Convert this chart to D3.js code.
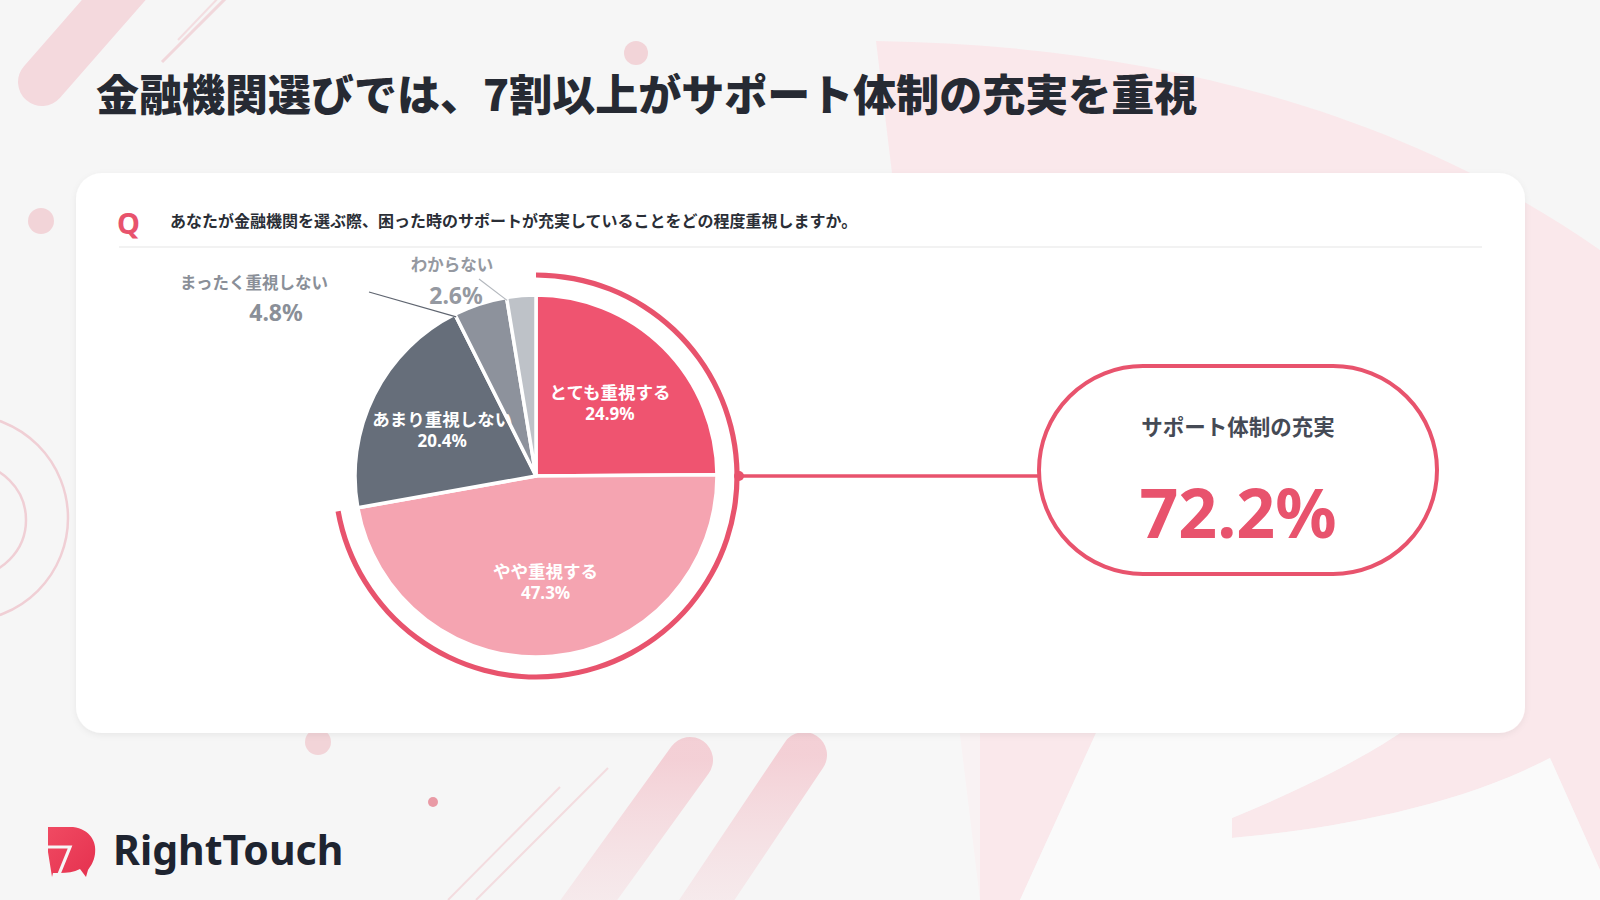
<!DOCTYPE html>
<html lang="ja">
<head>
<meta charset="utf-8">
<script src="https://cdn.jsdelivr.net/npm/d3@7"></script>
<style>
  html, body { margin: 0; padding: 0; background: #f6f6f6; }
  svg { display: block; }
</style>
</head>
<body>
<svg id="chart" width="1600" height="900"></svg>
<script>
// ---------- data ----------
const titleText = "金融機関選びでは、7割以上がサポート体制の充実を重視";
const questionText = "あなたが金融機関を選ぶ際、困った時のサポートが充実していることをどの程度重視しますか。";
const categories = ["とても重視する", "やや重視する", "あまり重視しない", "まったく重視しない", "わからない"];
const values = [24.9, 47.3, 20.4, 4.8, 2.6];
const highlightCount = 2; // first two categories summed in the callout
const highlightLabel = "サポート体制の充実";
const brandName = "RightTouch";

// ---------- styles ----------
const sliceColors = ["#ef5470", "#f5a4b1", "#666e7a", "#8d929c", "#bec2c8"];
const accent = "#e8536d";
const jp = "'Noto Sans CJK JP', 'Noto Sans', sans-serif";
const lat = "'Noto Sans', 'Noto Sans CJK JP', sans-serif";

const svg = d3.select("#chart");
const defs = svg.append("defs");

// ---------- background ----------
const bg = svg.append("g");
bg.append("rect").attr("width", 1600).attr("height", 900).attr("fill", "#f6f6f6");

// large faint brand shape at right
bg.append("path")
  .attr("d", "M876,41 C1150,45 1400,110 1600,250 L1600,870 L1550,758 C1450,810 1320,830 1232,838 L1232,818 C1300,790 1360,760 1400,733 L1380,715 L1100,715 L1096,733 L1020,900 L980,900 Z")
  .attr("fill", "#fae8eb");
bg.append("path")
  .attr("d", "M1020,900 L1096,733 L1400,733 C1360,760 1300,790 1232,818 L1232,838 C1320,830 1450,810 1550,758 L1600,870 L1600,900 Z")
  .attr("fill", "#fafafa");
bg.append("path")
  .attr("d", "M800,733 L980,733 L980,900 L800,900 Z").attr("fill", "#f9f9f9").attr("opacity", 0.6);

const stripeGrad = defs.append("linearGradient").attr("id", "stripeGrad")
  .attr("x1", "0").attr("y1", "0").attr("x2", "0").attr("y2", "1");
stripeGrad.append("stop").attr("offset", "0%").attr("stop-color", "#f3c9d0").attr("stop-opacity", 0.85);
stripeGrad.append("stop").attr("offset", "100%").attr("stop-color", "#f6dde1").attr("stop-opacity", 0.3);

// top-left stripes
bg.append("line").attr("x1", 42).attr("y1", 82).attr("x2", 140).attr("y2", -30)
  .attr("stroke", "#f4d2d8").attr("stroke-width", 48).attr("stroke-linecap", "round").attr("opacity", 0.8);
bg.append("line").attr("x1", 162).attr("y1", 62).attr("x2", 232).attr("y2", -8)
  .attr("stroke", "#f1d7db").attr("stroke-width", 3);
bg.append("line").attr("x1", 178).attr("y1", 40).attr("x2", 222).attr("y2", -6)
  .attr("stroke", "#f3dde0").attr("stroke-width", 2);

// dots
bg.append("circle").attr("cx", 636).attr("cy", 53).attr("r", 12).attr("fill", "#f2d4d8");
bg.append("circle").attr("cx", 41).attr("cy", 221).attr("r", 13).attr("fill", "#f2d4d8");
bg.append("circle").attr("cx", 318).attr("cy", 742).attr("r", 13).attr("fill", "#f2d4d8");
bg.append("circle").attr("cx", 433).attr("cy", 802).attr("r", 5).attr("fill", "#e99aa5");

// left concentric arcs
bg.append("circle").attr("cx", -35).attr("cy", 518).attr("r", 103)
  .attr("fill", "none").attr("stroke", "#f0cfd5").attr("stroke-width", 2.5);
bg.append("circle").attr("cx", -30).attr("cy", 520).attr("r", 56)
  .attr("fill", "none").attr("stroke", "#f0cfd5").attr("stroke-width", 2.5);

// bottom stripes
bg.append("line").attr("x1", 690).attr("y1", 760).attr("x2", 560).attr("y2", 940)
  .attr("stroke", "url(#stripeGrad)").attr("stroke-width", 46).attr("stroke-linecap", "round");
bg.append("line").attr("x1", 804).attr("y1", 755).attr("x2", 680).attr("y2", 940)
  .attr("stroke", "url(#stripeGrad)").attr("stroke-width", 46).attr("stroke-linecap", "round");
bg.append("line").attr("x1", 560).attr("y1", 787).attr("x2", 448).attr("y2", 900)
  .attr("stroke", "#f3dcdf").attr("stroke-width", 2);
bg.append("line").attr("x1", 608).attr("y1", 768).attr("x2", 476).attr("y2", 900)
  .attr("stroke", "#f3dcdf").attr("stroke-width", 2);

// ---------- title ----------
svg.append("text")
  .attr("x", 96).attr("y", 92)
  .attr("dominant-baseline", "central")
  .attr("font-family", jp).attr("font-weight", 900).attr("font-size", 43)
  .attr("fill", "#262a33")
  .text(titleText);

// ---------- card ----------
const shadow = defs.append("filter").attr("id", "cardShadow")
  .attr("x", "-5%").attr("y", "-5%").attr("width", "110%").attr("height", "115%");
shadow.append("feDropShadow").attr("dx", 0).attr("dy", 2).attr("stdDeviation", 3)
  .attr("flood-color", "#000").attr("flood-opacity", 0.06);

svg.append("rect")
  .attr("x", 76).attr("y", 173).attr("width", 1449).attr("height", 560)
  .attr("rx", 26).attr("fill", "#ffffff").attr("filter", "url(#cardShadow)");

// question
svg.append("text").attr("x", 117).attr("y", 222)
  .attr("dominant-baseline", "central")
  .attr("font-family", lat).attr("font-weight", 700).attr("font-size", 29)
  .attr("fill", accent).text("Q");
svg.append("text").attr("x", 170).attr("y", 220)
  .attr("dominant-baseline", "central")
  .attr("font-family", jp).attr("font-weight", 700).attr("font-size", 16)
  .attr("fill", "#2a2e36").text(questionText);
svg.append("line").attr("x1", 119).attr("x2", 1482).attr("y1", 247).attr("y2", 247)
  .attr("stroke", "#e6e6e6").attr("stroke-width", 1.2);

// ---------- pie ----------
const cx = 536, cy = 476, R = 181;
const data = categories.map((c, i) => ({ cat: c, value: values[i] }));
const pie = d3.pie().sort(null).value(d => d.value);
const arcs = pie(data);
const color = d3.scaleOrdinal().domain(categories).range(sliceColors);
const arc = d3.arc().innerRadius(0).outerRadius(R);
const labelArc = d3.arc().innerRadius(105).outerRadius(105);

const g = svg.append("g").attr("transform", `translate(${cx},${cy})`);

g.selectAll("path.slice").data(arcs).join("path")
  .attr("class", "slice")
  .attr("d", arc)
  .attr("fill", d => color(d.data.cat))
  .attr("stroke", "#ffffff").attr("stroke-width", 3.5).attr("stroke-linejoin", "round");

// highlight ring (sum of first categories)
const highlightEnd = arcs[highlightCount - 1].endAngle;
const highlightValue = d3.sum(values.slice(0, highlightCount));
const ringR = 201;
g.append("path")
  .attr("d", d3.arc().innerRadius(ringR - 2.6).outerRadius(ringR + 2.6)({ startAngle: 0, endAngle: highlightEnd }))
  .attr("fill", accent);

// inside labels for large slices
const big = arcs.filter(d => d.data.value >= 10);
const inLab = g.selectAll("g.inlab").data(big).join("g").attr("class", "inlab")
  .attr("transform", d => { const [x, y] = labelArc.centroid(d); return `translate(${x},${y})`; });
inLab.append("text").attr("y", -10.5).attr("text-anchor", "middle").attr("dominant-baseline", "central")
  .attr("font-family", jp).attr("font-weight", 700).attr("font-size", 17.5).attr("fill", "#ffffff")
  .text(d => d.data.cat);
inLab.append("text").attr("y", 11.5).attr("text-anchor", "middle").attr("dominant-baseline", "central")
  .attr("font-family", lat).attr("font-weight", 700).attr("font-size", 17).attr("fill", "#ffffff")
  .text(d => d3.format(".1f")(d.data.value) + "%");

// outside labels for small slices (layout offsets relative to pie centre)
const small = arcs.filter(d => d.data.value < 10);
const outLayout = [
  { lx: -282, ly: -194, gap: 30, dx: 22, lineFrom: [-167, -184], col: "#8a8f98", lineCol: "#5f6570" },
  { lx: -84,  ly: -212, gap: 31, dx: 4,  lineFrom: [-57, -197],  col: "#9599a1", lineCol: "#b4b8be" }
];
small.forEach((d, i) => {
  const L = outLayout[i];
  const a = d.startAngle, rr = R - 3;
  const tx = Math.sin(a) * rr, ty = -Math.cos(a) * rr;
  g.append("line").attr("x1", L.lineFrom[0]).attr("y1", L.lineFrom[1]).attr("x2", tx).attr("y2", ty)
    .attr("stroke", L.lineCol).attr("stroke-width", 1.2);
  g.append("text").attr("x", L.lx).attr("y", L.ly).attr("text-anchor", "middle").attr("dominant-baseline", "central")
    .attr("font-family", jp).attr("font-weight", 700).attr("font-size", 16.5).attr("fill", L.col)
    .text(d.data.cat);
  g.append("text").attr("x", L.lx + L.dx).attr("y", L.ly + L.gap).attr("text-anchor", "middle").attr("dominant-baseline", "central")
    .attr("font-family", lat).attr("font-weight", 700).attr("font-size", 23).attr("fill", L.col)
    .text(d3.format(".1f")(d.data.value) + "%");
});

// ---------- connector and callout ----------
const pillX = 1039, pillY = 366, pillW = 398, pillH = 208;
svg.append("line").attr("x1", cx + ringR).attr("x2", pillX).attr("y1", cy).attr("y2", cy)
  .attr("stroke", accent).attr("stroke-width", 3.5);
svg.append("circle").attr("cx", cx + ringR + 2).attr("cy", cy).attr("r", 5).attr("fill", accent);

svg.append("rect").attr("x", pillX).attr("y", pillY).attr("width", pillW).attr("height", pillH)
  .attr("rx", pillH / 2).attr("fill", "#ffffff").attr("stroke", accent).attr("stroke-width", 4);
svg.append("text").attr("x", pillX + pillW / 2).attr("y", 425)
  .attr("text-anchor", "middle").attr("dominant-baseline", "central")
  .attr("font-family", jp).attr("font-weight", 700).attr("font-size", 21.5).attr("fill", "#454a55")
  .text(highlightLabel);
svg.append("text").attr("x", pillX + pillW / 2).attr("y", 538)
  .attr("text-anchor", "middle")
  .attr("font-family", lat).attr("font-weight", 700).attr("font-size", 68).attr("fill", accent)
  .text(d3.format(".1f")(highlightValue) + "%");

// ---------- logo ----------
const logoGrad = defs.append("linearGradient").attr("id", "logoGrad")
  .attr("x1", "0").attr("y1", "0").attr("x2", "1").attr("y2", "1");
logoGrad.append("stop").attr("offset", "0%").attr("stop-color", "#f04a62");
logoGrad.append("stop").attr("offset", "100%").attr("stop-color", "#e5314f");
const logo = svg.append("g");
logo.append("path")
  .attr("d", "M48,827 L73,827 C90,829 97,842 95,854 C94,862 90,867 88,870 L86,877 L80,869 C74,872 67,873 60,873 L53,873 L52,877 L48,852 Z")
  .attr("fill", "url(#logoGrad)");
logo.append("polyline")
  .attr("points", "44,847 70,847 57,879")
  .attr("fill", "none").attr("stroke", "#f6f6f6").attr("stroke-width", 3.2).attr("stroke-linejoin", "miter");
logo.append("text").attr("x", 113).attr("y", 865)
  .attr("font-family", lat).attr("font-weight", 700).attr("font-size", 41).attr("fill", "#1e2430")
  .text(brandName);
</script>
</body>
</html>
